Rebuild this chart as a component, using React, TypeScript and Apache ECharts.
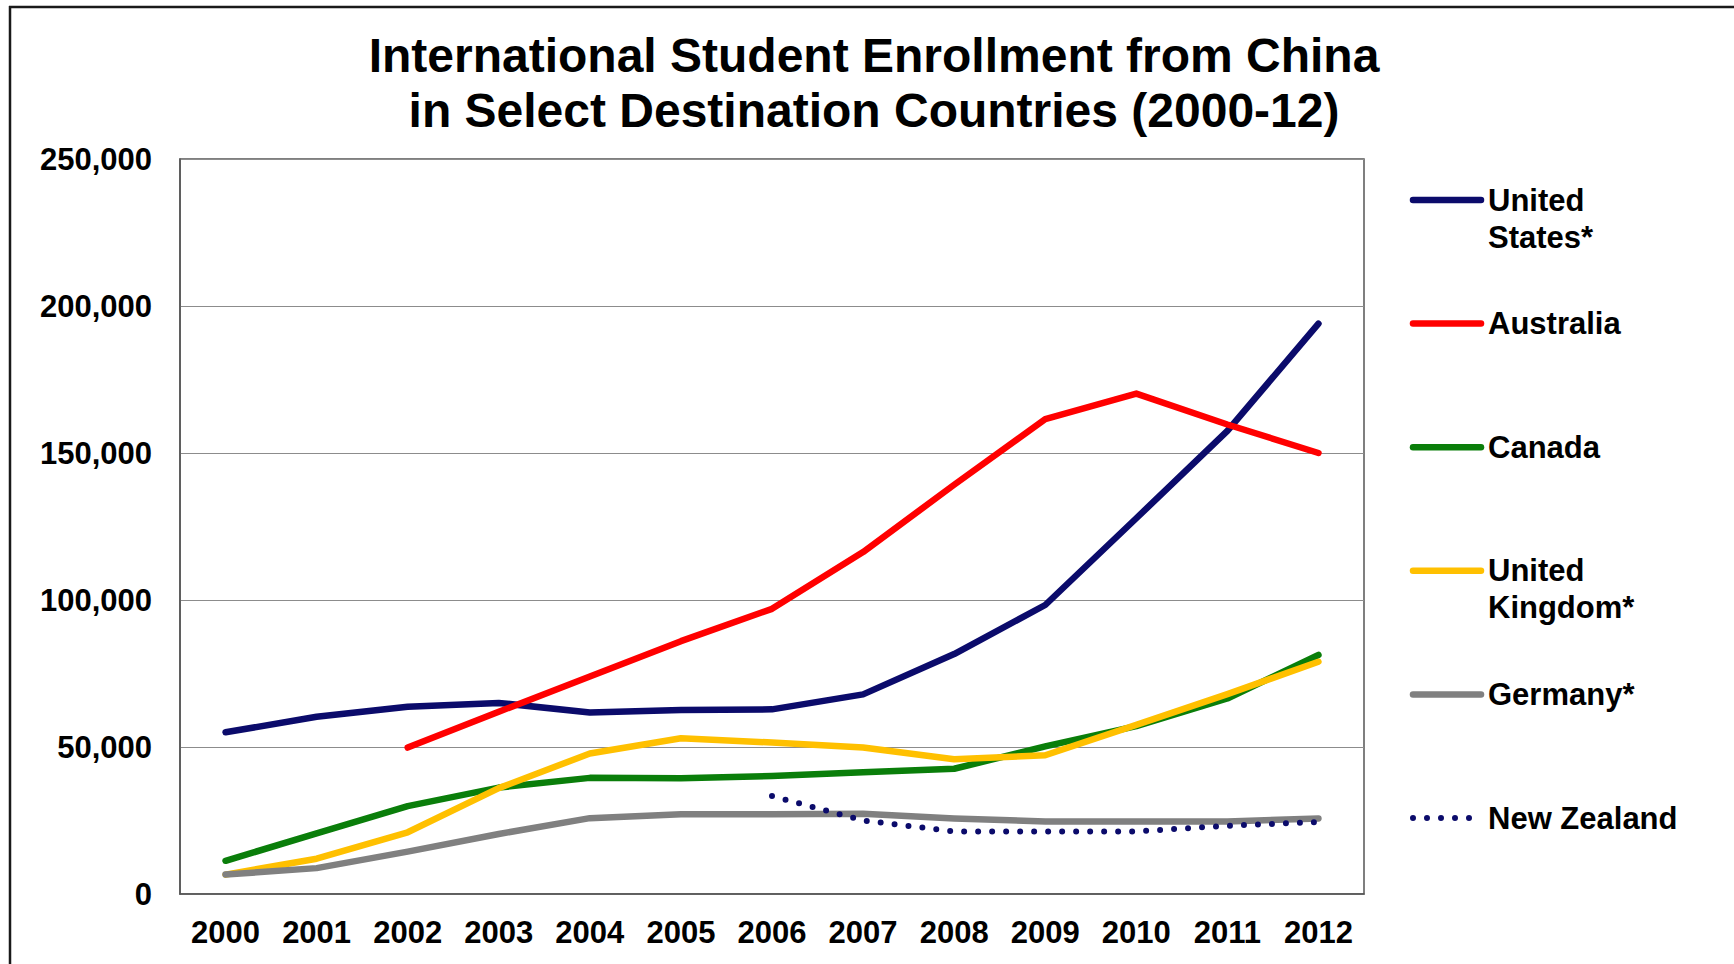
import React, { useEffect, useRef } from "react";
import * as echarts from "echarts";

const years = ["2000", "2001", "2002", "2003", "2004", "2005", "2006", "2007", "2008", "2009", "2010", "2011", "2012"];
const seriesNames = ["United States*", "Australia", "Canada", "United Kingdom*", "Germany*", "New Zealand"];
const legendLabels = ["United\nStates*", "Australia", "Canada", "United\nKingdom*", "Germany*", "New Zealand"];
const colors = ["#0b0b6b", "#ff0000", "#0a7e0a", "#ffc000", "#808080", "#0b0b6b"];

const unitedStates = [55000, 60300, 63700, 65000, 61700, 62600, 62800, 67900, 81600, 98300, 127800, 157500, 194000];
const australia = [null, null, 49800, 62000, 74000, 86000, 97000, 116300, 139200, 161500, 170200, 159700, 150000];
const canada = [11300, 20600, 29900, 36200, 39500, 39400, 40100, 41400, 42600, 50200, 57100, 66500, 81300];
const unitedKingdom = [6600, 12000, 21000, 36000, 47800, 53000, 51500, 49800, 45800, 47200, 57500, 68000, 79000];
const germany = [6600, 8800, 14400, 20400, 25800, 27100, 27100, 27300, 25700, 24700, 24700, 24700, 25700];
const newZealand = [null, null, null, null, null, null, 33300, 25000, 21300, 21300, 21300, 23200, 24500];

const yTicks = { min: 0, max: 250000, interval: 50000 };

const FONT = '"Liberation Sans", Arial, Helvetica, sans-serif';

export default function App() {
  const ref = useRef<HTMLDivElement>(null);

  useEffect(() => {
    if (!ref.current) return;
    const chart = echarts.init(ref.current, null, { renderer: "svg" });
    const allData = [unitedStates, australia, canada, unitedKingdom, germany, newZealand];

    const legendTop = 200;
    const legendStep = 123.6;
    const legendGraphics: any[] = [];
    seriesNames.forEach((_, i) => {
      const yc = legendTop + i * legendStep;
      const dotted = i === 5;
      legendGraphics.push({
        type: "line",
        shape: { x1: 1413, y1: yc, x2: 1481, y2: yc },
        style: dotted
          ? { stroke: colors[i], lineWidth: 6, lineDash: [0, 14], lineCap: "round" }
          : { stroke: colors[i], lineWidth: 6.5, lineCap: "round" },
        silent: true,
      });
      legendGraphics.push({
        type: "text",
        x: 1488,
        y: yc - 18.5,
        style: {
          text: legendLabels[i],
          font: `bold 31px ${FONT}`,
          fill: "#000",
          lineHeight: 37,
          verticalAlign: "top",
          align: "left",
        },
        silent: true,
      });
    });

    chart.setOption({
      animation: false,
      backgroundColor: "#ffffff",
      title: {
        text: "International Student Enrollment from China\nin Select Destination Countries (2000-12)",
        left: 869,
        top: 23,
        textAlign: "center",
        textStyle: {
          fontFamily: FONT,
          fontWeight: "bold",
          fontSize: 48,
          lineHeight: 55,
          color: "#000",
        },
      },
      grid: {
        left: 180,
        top: 159,
        width: 1184,
        height: 735,
        show: true,
        borderColor: "#555",
        borderWidth: 1.5,
        backgroundColor: "transparent",
      },
      xAxis: {
        type: "category",
        data: years,
        boundaryGap: true,
        axisLine: { show: true, lineStyle: { color: "#555", width: 1.5 } },
        axisTick: { show: false },
        axisLabel: {
          interval: 0,
          color: "#000",
          fontFamily: FONT,
          fontWeight: "bold",
          fontSize: 31,
          margin: 23,
        },
      },
      yAxis: {
        type: "value",
        min: yTicks.min,
        max: yTicks.max,
        interval: yTicks.interval,
        axisLine: { show: true, lineStyle: { color: "#555", width: 1.5 } },
        axisTick: { show: false },
        splitLine: { show: true, lineStyle: { color: "#8c8c8c", width: 1 } },
        axisLabel: {
          color: "#000",
          fontFamily: FONT,
          fontWeight: "bold",
          fontSize: 31,
          margin: 28,
          formatter: (v: number) => v.toLocaleString("en-US"),
        },
      },
      series: seriesNames.map((name, i) => ({
        name,
        type: "line",
        data: allData[i],
        symbol: "none",
        showSymbol: false,
        connectNulls: false,
        z: 2 + i,
        lineStyle:
          i === 5
            ? { color: colors[i], width: 6, type: [0, 14], cap: "round" }
            : { color: colors[i], width: 6.5, cap: "round", join: "round" },
        itemStyle: { color: colors[i] },
      })),
      graphic: [
        {
          type: "line",
          shape: { x1: 9, y1: 7, x2: 1734, y2: 7 },
          style: { stroke: "#1a1a1a", lineWidth: 2.5 },
          silent: true,
        },
        {
          type: "line",
          shape: { x1: 10, y1: 6, x2: 10, y2: 964 },
          style: { stroke: "#1a1a1a", lineWidth: 2.5 },
          silent: true,
        },
        ...legendGraphics,
      ],
    });

    return () => {
      chart.dispose();
    };
  }, []);

  return (
    <div
      ref={ref}
      style={{ position: "fixed", left: 0, top: 0, width: 1734, height: 964, background: "#fff" }}
    />
  );
}
